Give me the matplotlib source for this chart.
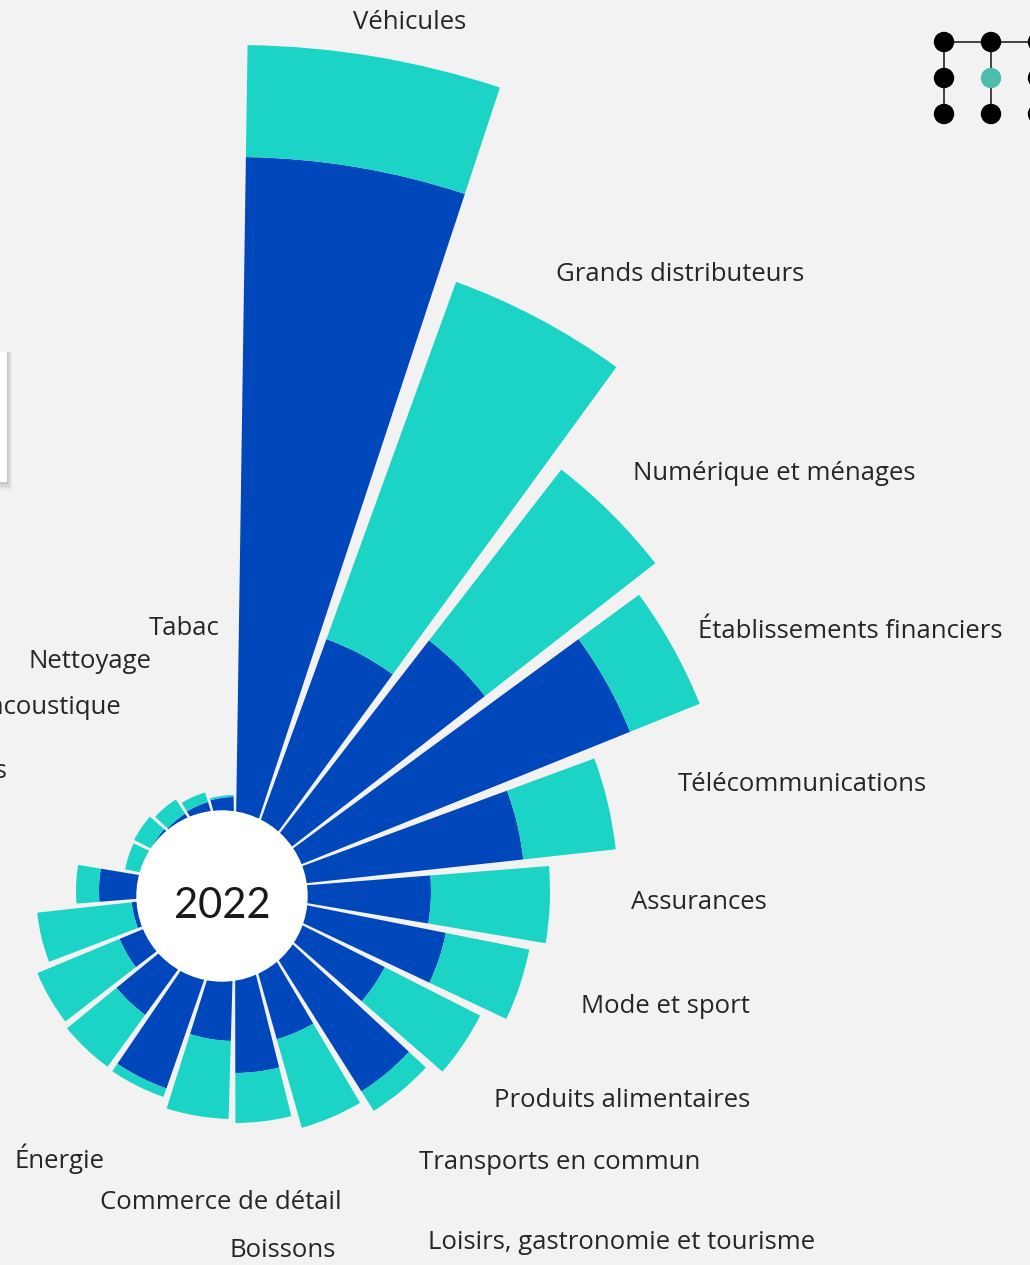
import numpy as np
import matplotlib.pyplot as plt
from matplotlib.patches import Circle, Rectangle

plt.rcParams['font.family'] = ['Open Sans', 'DejaVu Sans']

# data (clockwise from the top)
categories = ["Véhicules", "Grands distributeurs", "Numérique et ménages",
              "Établissements financiers", "Télécommunications", "Assurances",
              "Mode et sport", "Produits alimentaires", "Transports en commun",
              "Loisirs, gastronomie et tourisme", "Boissons", "Commerce de détail",
              "Énergie", "Santé", "Immobilier", "Beauté et hygiène", "Médias",
              "Éducation", "Services publics", "Optique et acoustique",
              "Nettoyage", "Tabac"]
serie_fonce = [734, 268, 317, 426, 290, 196, 215, 168, 237, 154, 182, 150,
               209, 153, 125, 104, 136, 95, 94, 92, 93, 94]
serie_claire = [112, 380, 216, 75, 93, 119, 85, 107, 23, 92, 50, 78,
                9, 64, 89, 95, 23, 17, 19, 17, 10, 2]
# angular share of each sector, degrees
largeurs = [19.1, 17.8, 16.0, 16.0, 15.7, 15.8, 15.7, 15.8, 16.7, 16.5, 15.65,
            17.55, 16.8, 16.5, 16.7, 16.3, 15.7, 15.7, 16.0, 16.0, 16.0, 16.0]
annee = "2022"

# label layout (angle in degrees, radius, alignment)
label_theta = [11.4, 27.5, 43.6, 60.7, 76.5, 91.7, 108.4, 129, 145.9, 151.3, 172.4,
               182.6, 206, 221, 238, 254, 270, 285, 297.7, 328.2, 339.9, 356.7]
label_r = [886, 695, 577, 531, 455, 396, 365, 333, 328, 401, 363,
           312, 298, 420, 380, 350, 320, 300, 258, 216, 244, 263]
label_ha = ['center'] + ['left'] * 9 + ['center', 'center'] + ['right'] * 10

bleu = '#0047BB'
cyan = '#1CD4C5'
fond = '#F2F2F2'

W, H = 1030, 1265
cx, cy = 235, 891
R = 900

fig = plt.figure(figsize=(W / 100, H / 100), dpi=100, facecolor=fond)

ax = fig.add_axes([(cx - R) / W, (H - cy - R) / H, 2 * R / W, 2 * R / H],
                  projection='polar')
ax.set_theta_zero_location('N')
ax.set_theta_direction(-1)
ax.set_ylim(0, R)
ax.set_axis_off()

gap = 1.7
larg = np.array(largeurs)
gauche = np.concatenate([[0], np.cumsum(larg)[:-1]])
theta = np.deg2rad(gauche + larg / 2)
width = np.deg2rad(larg - gap)

ax.bar(theta, serie_fonce, width=width, color=bleu, linewidth=0)
ax.bar(theta, serie_claire, width=width, bottom=serie_fonce, color=cyan, linewidth=0)

for i, name in enumerate(categories):
    ax.text(np.deg2rad(label_theta[i]), label_r[i], name, ha=label_ha[i],
            va='center', fontsize=18.5, color='#262626')

# overlay in pixel coordinates
ov = fig.add_axes([0, 0, 1, 1])
ov.set_xlim(0, W)
ov.set_ylim(H, 0)
ov.set_axis_off()

ov.add_patch(Circle((222, 896), 85, color='white', zorder=3))
ov.text(222, 906, annee, ha='center', va='center', fontsize=30, color='#1a1a1a',
        family=['Lato', 'DejaVu Sans'], zorder=4)

# small box on the left edge with its shadow
for k in range(6):
    ov.add_patch(Rectangle((-10, 352), 17 + k, 130 + k * 1.5, color='black',
                           alpha=0.035, linewidth=0, zorder=2))
ov.add_patch(Rectangle((-10, 352), 17, 130, color='white', linewidth=0, zorder=2))

# logo top right
xs = [944, 991, 1038]
ys = [42, 78, 114]
ov.plot([xs[0], xs[2]], [ys[0], ys[0]], color='#333333', lw=1.3, zorder=2)
for x in xs:
    ov.plot([x, x], [ys[0], ys[2]], color='#333333', lw=1.3, zorder=2)
for x in xs:
    for y in ys:
        c = '#4DBBAE' if (x, y) == (xs[1], ys[1]) else 'black'
        ov.add_patch(Circle((x, y), 9.5, color=c, zorder=3))

fig.savefig('out.png', dpi=100, facecolor=fond)
